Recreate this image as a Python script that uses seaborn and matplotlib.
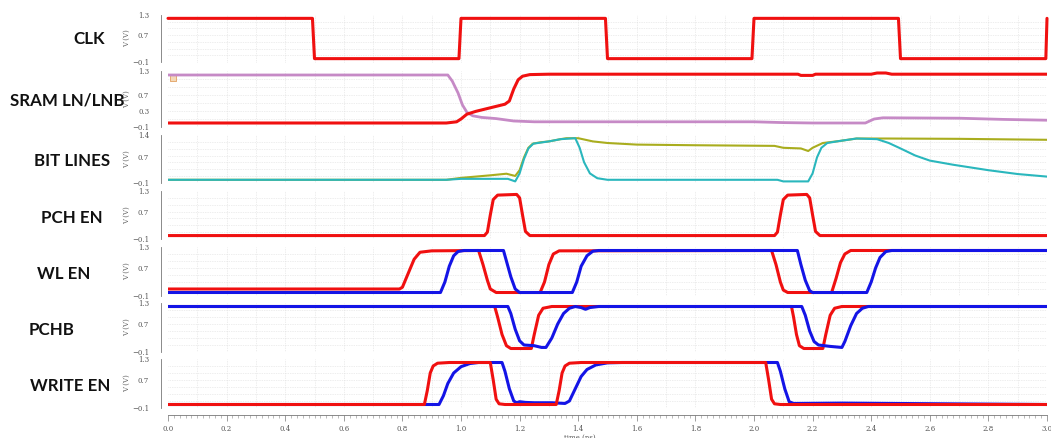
import numpy as np
import pandas as pd
import matplotlib
matplotlib.use("Agg")
import matplotlib.pyplot as plt
from matplotlib.ticker import MultipleLocator, FixedLocator
import seaborn as sns

# ---------------- waveform data (time in ns, voltage in V) ----------------
clk_t = [0.0, 0.493, 0.5, 0.993, 1.0, 1.493, 1.5, 1.993, 2.0, 2.493, 2.5, 2.996, 3.0]
clk_v = [1.2, 1.2, 0.0, 0.0, 1.2, 1.2, 0.0, 0.0, 1.2, 1.2, 0.0, 0.0, 1.2]

ln_t = [0.0, 0.95, 0.985, 1.0, 1.02, 1.05, 1.1, 1.15, 1.165, 1.18, 1.195, 1.21, 1.235, 1.3,
        2.15, 2.16, 2.2, 2.21, 2.4, 2.42, 2.45, 2.47, 3.0]
ln_v = [0.0, 0.0, 0.03, 0.1, 0.22, 0.29, 0.38, 0.47, 0.55, 0.85, 1.08, 1.17, 1.21, 1.22,
        1.22, 1.19, 1.19, 1.22, 1.22, 1.25, 1.25, 1.22, 1.22]
lnb_t = [0.0, 0.955, 0.97, 0.99, 1.005, 1.02, 1.04, 1.07, 1.12, 1.18, 1.25, 1.6, 2.0, 2.1,
         2.2, 2.38, 2.41, 2.44, 2.7, 2.85, 3.0]
lnb_v = [1.2, 1.2, 1.05, 0.75, 0.45, 0.27, 0.18, 0.14, 0.11, 0.05, 0.03, 0.03, 0.03, 0.01,
         0.0, 0.0, 0.1, 0.13, 0.12, 0.09, 0.07]
marker_t = [0.018]
marker_v = [1.12]

bl_t = [0.0, 0.95, 1.0, 1.05, 1.1, 1.155, 1.185, 1.2, 1.215, 1.23, 1.245, 1.27, 1.3, 1.34, 1.36,
        1.4, 1.45, 1.5, 1.6, 1.8, 2.07, 2.1, 2.16, 2.185, 2.2, 2.235, 2.29, 2.35, 2.45, 2.7, 3.0]
bl_v = [0.0, 0.0, 0.06, 0.1, 0.14, 0.19, 0.12, 0.3, 0.7, 1.0, 1.13, 1.17, 1.2, 1.27, 1.3,
        1.3, 1.2, 1.15, 1.1, 1.08, 1.06, 1.0, 0.98, 0.9, 1.0, 1.15, 1.21, 1.29, 1.29, 1.28, 1.25]
blb_t = [0.0, 0.95, 1.0, 1.16, 1.185, 1.2, 1.215, 1.23, 1.247, 1.3, 1.34, 1.39, 1.405, 1.42,
         1.44, 1.465, 1.5, 2.08, 2.1, 2.185, 2.2, 2.215, 2.23, 2.25, 2.29, 2.35, 2.42, 2.46,
         2.5, 2.55, 2.6, 2.68, 2.8, 2.9, 3.0]
blb_v = [0.0, 0.0, 0.03, 0.03, -0.05, 0.2, 0.65, 0.98, 1.13, 1.2, 1.27, 1.3, 1.0, 0.55,
         0.2, 0.05, 0.0, 0.0, -0.05, -0.05, 0.2, 0.7, 1.0, 1.15, 1.21, 1.29, 1.27, 1.15,
         0.98, 0.76, 0.6, 0.47, 0.3, 0.18, 0.1]

pch_t = [0.0, 1.08, 1.09, 1.1, 1.11, 1.125, 1.19, 1.2, 1.21, 1.22, 1.235,
         2.07, 2.08, 2.09, 2.1, 2.115, 2.18, 2.19, 2.2, 2.21, 2.225, 3.0]
pch_v = [0.0, 0.0, 0.1, 0.6, 1.05, 1.18, 1.2, 1.1, 0.6, 0.12, 0.0,
         0.0, 0.1, 0.6, 1.05, 1.18, 1.2, 1.1, 0.6, 0.12, 0.0, 0.0]

wl_red_t = [0.0, 0.79, 0.8, 0.82, 0.84, 0.86, 0.9, 1.06, 1.075, 1.09, 1.1, 1.12, 1.27, 1.285,
            1.3, 1.315, 1.335, 2.06, 2.075, 2.09, 2.1, 2.115, 2.265, 2.28, 2.295, 2.31, 2.33, 3.0]
wl_red_v = [0.1, 0.1, 0.15, 0.55, 0.95, 1.15, 1.19, 1.2, 0.8, 0.35, 0.1, 0.0, 0.0, 0.3,
            0.8, 1.1, 1.19, 1.2, 0.8, 0.3, 0.07, 0.0, 0.0, 0.4, 0.85, 1.1, 1.2, 1.2]
wl_blue_t = [0.0, 0.93, 0.945, 0.96, 0.975, 0.99, 1.01, 1.145, 1.155, 1.17, 1.185, 1.2, 1.38,
             1.395, 1.41, 1.43, 1.45, 1.47, 2.148, 2.16, 2.175, 2.19, 2.2, 2.385, 2.4, 2.415,
             2.43, 2.45, 2.47, 3.0]
wl_blue_v = [0.0, 0.0, 0.3, 0.75, 1.05, 1.17, 1.2, 1.2, 0.9, 0.45, 0.1, 0.0, 0.0,
             0.3, 0.75, 1.05, 1.18, 1.2, 1.2, 0.8, 0.35, 0.05, 0.0, 0.0, 0.3, 0.7,
             1.0, 1.17, 1.2, 1.2]

pchb_red_t = [0.0, 1.115, 1.125, 1.14, 1.155, 1.17, 1.24, 1.25, 1.265, 1.28, 1.31,
              2.128, 2.135, 2.145, 2.155, 2.17, 2.235, 2.245, 2.26, 2.275, 2.3, 3.0]
pchb_red_v = [1.2, 1.2, 0.9, 0.4, 0.08, 0.0, 0.0, 0.4, 0.95, 1.15, 1.2,
              1.2, 0.9, 0.4, 0.08, 0.0, 0.0, 0.4, 0.95, 1.15, 1.2, 1.2]
pchb_blue_t = [0.0, 1.16, 1.17, 1.185, 1.2, 1.215, 1.25, 1.275, 1.29, 1.31, 1.33, 1.35, 1.37,
               1.39, 1.41, 1.425, 1.44, 1.47, 2.163, 2.175, 2.19, 2.205, 2.22, 2.26, 2.3,
               2.31, 2.33, 2.35, 2.37, 2.39, 3.0]
pchb_blue_v = [1.2, 1.2, 1.0, 0.55, 0.22, 0.1, 0.08, 0.03, 0.03, 0.3, 0.7, 1.0, 1.15,
               1.2, 1.17, 1.12, 1.17, 1.2, 1.2, 0.95, 0.5, 0.2, 0.1, 0.06, 0.03,
               0.2, 0.65, 1.0, 1.15, 1.2, 1.2]

we_red_t = [0.0, 0.875, 0.885, 0.895, 0.905, 0.92, 0.96, 1.1, 1.11, 1.12, 1.13, 1.15, 1.325,
            1.335, 1.345, 1.355, 1.37, 1.41, 2.04, 2.05, 2.06, 2.07, 2.09, 3.0]
we_red_v = [0.0, 0.0, 0.4, 0.9, 1.1, 1.18, 1.2, 1.2, 0.7, 0.15, 0.02, 0.0, 0.0,
            0.4, 0.9, 1.1, 1.18, 1.2, 1.2, 0.7, 0.15, 0.02, 0.0, 0.0]
we_blue_t = [0.0, 0.925, 0.94, 0.955, 0.975, 1.0, 1.03, 1.06, 1.14, 1.15, 1.165, 1.18, 1.19,
             1.2, 1.22, 1.25, 1.31, 1.355, 1.37, 1.39, 1.41, 1.43, 1.46, 1.5, 1.55, 2.08, 2.09,
             2.105, 2.12, 2.135, 2.3, 3.0]
we_blue_v = [0.0, 0.0, 0.25, 0.6, 0.9, 1.08, 1.17, 1.2, 1.2, 0.95, 0.45, 0.1, 0.05,
             0.08, 0.06, 0.05, 0.05, 0.03, 0.1, 0.45, 0.8, 1.0, 1.13, 1.19, 1.2, 1.2, 0.95,
             0.45, 0.08, 0.03, 0.04, 0.0]

panel_names = ["CLK", "SRAM LN/LNB", "BIT LINES", "PCH EN", "WL EN", "PCHB", "WRITE EN"]
panel_yticks = [[-0.1, 0.7, 1.3], [-0.1, 0.3, 0.7, 1.3], [-0.1, 0.7, 1.4],
                [-0.1, 0.7, 1.3], [-0.1, 0.7, 1.3], [-0.1, 0.7, 1.3], [-0.1, 0.7, 1.3]]
x_ticks = [round(0.2 * i, 1) for i in range(16)]

# ---------------- styling ----------------
RED = "#f01010"
BLUE = "#1414e6"
ORCHID = "#c68ac6"
OLIVE = "#a9ad1e"
TEAL = "#2ab7bd"

sns.set_style("white")
plt.rcParams["font.family"] = ["DejaVu Serif"]

W, H = 1051, 438
fig = plt.figure(figsize=(W / 100, H / 100), dpi=100)

# vertical pixel extents (top, bottom) of each panel's value range
panel_px = [(15, 62), (71, 127), (135, 183), (191, 239), (247, 296), (303, 352), (359, 408)]
x_left_px, x_right_px = 168, 1047
label_centers = [(89, 39), (67, 100), (72, 161), (72, 218), (64, 274), (52, 330), (70, 386)]

axes = []
for i, (top, bot) in enumerate(panel_px):
    ax = fig.add_axes([x_left_px / W, 1 - bot / H, (x_right_px - x_left_px) / W, (bot - top) / H])
    axes.append(ax)
    yt = panel_yticks[i]
    ax.set_xlim(0, 3.0)
    ax.set_ylim(yt[0], yt[-1])
    for side in ("top", "right", "bottom"):
        ax.spines[side].set_visible(False)
    ax.spines["left"].set_position(("outward", 5))
    ax.spines["left"].set_color("#777777")
    ax.spines["left"].set_linewidth(0.6)
    ax.yaxis.set_major_locator(FixedLocator(yt))
    ax.yaxis.set_minor_locator(MultipleLocator(0.05))
    ax.tick_params(axis="y", which="major", length=4, width=0.5, color="#777777",
                   labelsize=5, labelcolor="#555555", pad=4.5)
    ax.tick_params(axis="y", which="minor", length=2.5, width=0.4, color="#888888")
    # dotted background grid
    for gx in np.arange(0.1, 3.0, 0.1):
        ax.axvline(gx, color="#dcdcdc", lw=0.5, ls=(0, (1, 1.5)), zorder=0)
    for gy in np.linspace(yt[0], yt[-1], 8)[1:-1]:
        ax.axhline(gy, color="#dcdcdc", lw=0.5, ls=(0, (1, 1.5)), zorder=0)
    if i < len(panel_px) - 1:
        ax.set_xticks([])
    fig.text(label_centers[i][0] / W, 1 - label_centers[i][1] / H, panel_names[i],
             ha="center", va="center", fontsize=12.2, fontweight="bold",
             family=["Lato", "DejaVu Sans"], color="#111111")


def trace(ax, t, v, color, lw):
    df = pd.DataFrame({"t": t, "v": v})
    sns.lineplot(data=df, x="t", y="v", ax=ax, color=color, lw=lw,
                 estimator=None, sort=False, legend=False)
    ax.set_xlabel("")
    ax.set_ylabel("V (V)", fontsize=5, color="#666666", labelpad=1)


trace(axes[0], clk_t, clk_v, RED, 2.2)
trace(axes[1], lnb_t, lnb_v, ORCHID, 2.0)
trace(axes[1], ln_t, ln_v, RED, 2.2)
sns.scatterplot(x=marker_t, y=marker_v, ax=axes[1], marker="s", s=14,
                color="#f4d9b8", edgecolor="#e2a060", linewidth=0.6, legend=False)
axes[1].set_xlabel("")
trace(axes[2], bl_t, bl_v, OLIVE, 1.5)
trace(axes[2], blb_t, blb_v, TEAL, 1.5)
trace(axes[3], pch_t, pch_v, RED, 2.2)
trace(axes[4], wl_red_t, wl_red_v, RED, 2.2)
trace(axes[4], wl_blue_t, wl_blue_v, BLUE, 2.2)
trace(axes[5], pchb_red_t, pchb_red_v, RED, 2.2)
trace(axes[5], pchb_blue_t, pchb_blue_v, BLUE, 2.2)
trace(axes[6], we_blue_t, we_blue_v, BLUE, 2.2)
trace(axes[6], we_red_t, we_red_v, RED, 2.2)
for ln in axes[0].lines:
    ln.set_clip_on(False)

# shared time axis on the bottom panel
axb = axes[-1]
axb.spines["bottom"].set_visible(True)
axb.spines["bottom"].set_position(("outward", 5))
axb.spines["bottom"].set_color("#777777")
axb.spines["bottom"].set_linewidth(0.6)
axb.xaxis.set_major_locator(FixedLocator(x_ticks))
axb.xaxis.set_minor_locator(MultipleLocator(0.02))
axb.set_xticklabels([f"{x:.1f}" for x in x_ticks])
axb.tick_params(axis="x", which="major", length=4, width=0.5, color="#777777",
                labelsize=5, labelcolor="#555555", pad=3, bottom=True)
axb.tick_params(axis="x", which="minor", length=2, width=0.4, color="#888888", bottom=True)
fig.text(580 / W, 4 / H, "time (ns)", ha="center", va="top", fontsize=5, color="#555555")

fig.savefig("out.png", dpi=100, facecolor="white")
